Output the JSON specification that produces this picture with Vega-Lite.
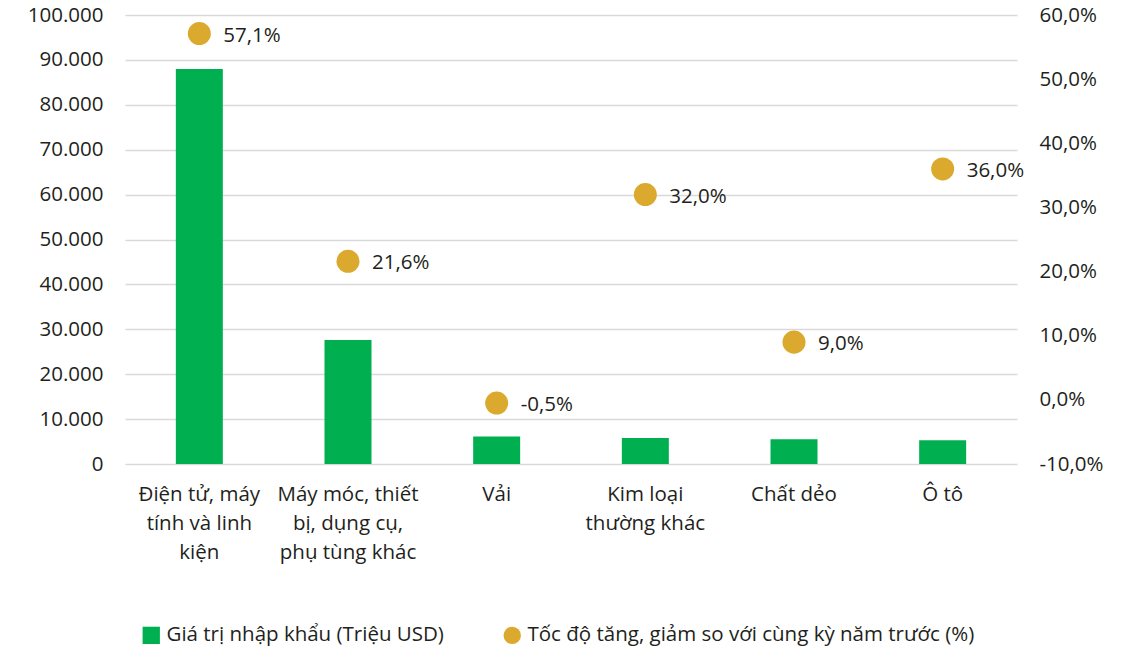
{
  "$schema": "https://vega.github.io/schema/vega-lite/v6.json",
  "width": 892,
  "height": 449,
  "autosize": {"type": "none"},
  "padding": {"left": 125, "top": 15, "right": 115, "bottom": 188},
  "background": "white",
  "config": {
    "locale": {"number": {"decimal": ",", "thousands": ".", "grouping": [3], "currency": ["", " ₫"], "minus": "-", "percent": "%"}},
    "font": "Open Sans",
    "view": {"stroke": null},
    "axis": {"labelFont": "Open Sans", "labelFontSize": 20.5, "labelColor": "#231f20", "titleFont": "Open Sans"},
    "legend": {"labelFont": "Open Sans", "labelFontSize": 20.5, "labelColor": "#231f20"}
  },
  "data": {
    "values": [
      {"category": "Điện tử, máy tính và linh kiện", "value": 88000, "growth": 0.571},
      {"category": "Máy móc, thiết bị, dụng cụ, phụ tùng khác", "value": 27600, "growth": 0.216},
      {"category": "Vải", "value": 6150, "growth": -0.005},
      {"category": "Kim loại thường khác", "value": 5800, "growth": 0.32},
      {"category": "Chất dẻo", "value": 5500, "growth": 0.09},
      {"category": "Ô tô", "value": 5300, "growth": 0.36}
    ]
  },
  "encoding": {
    "x": {
      "field": "category",
      "type": "nominal",
      "sort": null,
      "scale": {"paddingInner": 0, "paddingOuter": 0},
      "axis": {
        "title": null,
        "labelAngle": 0,
        "domain": false,
        "ticks": false,
        "labelPadding": 20,
        "labelBaseline": "top",
        "labelLineHeight": 29,
        "labelLimit": 0,
        "labelExpr": "datum.value == 'Điện tử, máy tính và linh kiện' ? ['Điện tử, máy', 'tính và linh', 'kiện'] : datum.value == 'Máy móc, thiết bị, dụng cụ, phụ tùng khác' ? ['Máy móc, thiết', 'bị, dụng cụ,', 'phụ tùng khác'] : datum.value == 'Kim loại thường khác' ? ['Kim loại', 'thường khác'] : datum.value"
      }
    }
  },
  "layer": [
    {
      "mark": {"type": "bar", "width": 47},
      "encoding": {
        "y": {
          "field": "value",
          "type": "quantitative",
          "scale": {"domain": [0, 100000], "nice": false},
          "axis": {
            "title": null,
            "values": [0, 10000, 20000, 30000, 40000, 50000, 60000, 70000, 80000, 90000, 100000],
            "format": ",d",
            "grid": true,
            "gridColor": "#d9d9d9",
            "gridWidth": 1.5,
            "domain": false,
            "ticks": false,
            "labelPadding": 22
          }
        },
        "color": {
          "datum": "Giá trị nhập khẩu (Triệu USD)",
          "scale": {
            "domain": ["Giá trị nhập khẩu (Triệu USD)", "Tốc độ tăng, giảm so với cùng kỳ năm trước (%)"],
            "range": ["#00b050", "#dba92e"]
          },
          "legend": {
            "title": null,
            "orient": "none",
            "direction": "horizontal",
            "legendX": 16,
            "legendY": 610,
            "symbolSize": 300,
            "symbolStrokeWidth": 0,
            "labelOffset": 5,
            "columnPadding": 58,
            "labelLimit": 0
          }
        }
      }
    },
    {
      "mark": {"type": "point", "filled": true, "opacity": 1, "size": 530},
      "encoding": {
        "y": {
          "field": "growth",
          "type": "quantitative",
          "scale": {"domain": [-0.1, 0.6], "nice": false},
          "axis": {
            "orient": "right",
            "title": null,
            "values": [-0.1, 0, 0.1, 0.2, 0.3, 0.4, 0.5, 0.6],
            "format": ".1%",
            "grid": false,
            "domain": false,
            "ticks": false,
            "labelPadding": 22
          }
        },
        "color": {"datum": "Tốc độ tăng, giảm so với cùng kỳ năm trước (%)"},
        "shape": {
          "datum": "Tốc độ tăng, giảm so với cùng kỳ năm trước (%)",
          "scale": {
            "domain": ["Giá trị nhập khẩu (Triệu USD)", "Tốc độ tăng, giảm so với cùng kỳ năm trước (%)"],
            "range": ["square", "circle"]
          }
        }
      }
    },
    {
      "mark": {"type": "text", "align": "left", "baseline": "middle", "dx": 24, "dy": 2, "fontSize": 20.5, "color": "#231f20", "font": "Open Sans"},
      "encoding": {
        "y": {
          "field": "growth",
          "type": "quantitative",
          "scale": {"domain": [-0.1, 0.6], "nice": false},
          "axis": null
        },
        "text": {"field": "growth", "type": "quantitative", "format": ".1%"}
      }
    }
  ],
  "resolve": {"scale": {"y": "independent"}}
}
